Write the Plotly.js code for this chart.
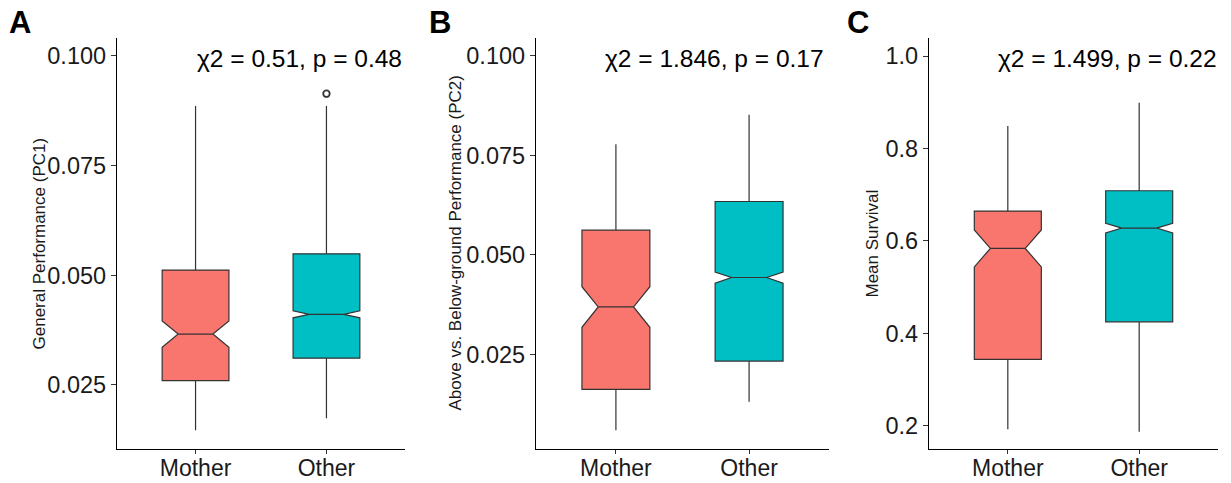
<!DOCTYPE html>
<html>
<head>
<meta charset="utf-8">
<script src="https://cdn.plot.ly/plotly-3.0.1.min.js"></script>
<style>
  html, body { margin: 0; padding: 0; background: #ffffff; }
  #chart { width: 1231px; height: 483px; }
</style>
</head>
<body>
<div id="chart"></div>
<script>
// ---- Data ----
const categories = ['Mother', 'Other'];
const boxColors = ['#F8766D', '#00BFC4'];

// Panel A: General Performance (PC1)
const a_lower  = [0.0147, 0.0174];
const a_q1     = [0.0260, 0.0311];
const a_median = [0.0366, 0.0411];
const a_q3     = [0.0512, 0.0549];
const a_upper  = [0.0886, 0.0886];
const a_notch  = [0.0030, 0.0008];
const a_outlierCat = ['Other'];
const a_outlierVal = [0.0914];

// Panel B: Above vs. Below-ground Performance (PC2)
const b_lower  = [0.0059, 0.0131];
const b_q1     = [0.0162, 0.0233];
const b_median = [0.0369, 0.0443];
const b_q3     = [0.0562, 0.0634];
const b_upper  = [0.0778, 0.0852];
const b_notch  = [0.0051, 0.0014];

// Panel C: Mean Survival
const c_lower  = [0.1926, 0.1868];
const c_q1     = [0.3435, 0.4249];
const c_median = [0.5837, 0.6277];
const c_q3     = [0.6645, 0.7085];
const c_upper  = [0.8485, 0.8990];
const c_notch  = [0.0400, 0.0105];

const panelLetters = ['A', 'B', 'C'];
const yTitles = ['General Performance (PC1)', 'Above vs. Below-ground Performance (PC2)', 'Mean Survival'];
const statTexts = ['χ2 = 0.51, p = 0.48', 'χ2 = 1.846, p = 0.17', 'χ2 = 1.499, p = 0.22'];
const yTickValsAB = [0.025, 0.050, 0.075, 0.100];
const yTickValsC = [0.2, 0.4, 0.6, 0.8, 1.0];

// ---- Build traces ----
const W = 1231, H = 483;
const FONT = 'Liberation Sans, Arial, Helvetica, sans-serif';
const traces = [];

function addBoxes(lower, q1, med, q3, upper, notch, xa, ya) {
  categories.forEach((cat, i) => {
    traces.push({
      type: 'box',
      x: [cat],
      q1: [q1[i]], median: [med[i]], q3: [q3[i]],
      lowerfence: [lower[i]], upperfence: [upper[i]],
      notched: true, notchspan: [notch[i]], notchwidth: 0.24,
      width: 0.51, whiskerwidth: 0,
      fillcolor: boxColors[i],
      line: { color: '#333333', width: 1.2 },
      boxpoints: false,
      showlegend: false, hoverinfo: 'skip',
      xaxis: xa, yaxis: ya
    });
  });
}
addBoxes(a_lower, a_q1, a_median, a_q3, a_upper, a_notch, 'x', 'y');
addBoxes(b_lower, b_q1, b_median, b_q3, b_upper, b_notch, 'x2', 'y2');
addBoxes(c_lower, c_q1, c_median, c_q3, c_upper, c_notch, 'x3', 'y3');

traces.push({
  type: 'scatter', mode: 'markers',
  x: a_outlierCat, y: a_outlierVal,
  marker: { symbol: 'circle-open', size: 6.5, color: '#333333', line: { width: 1.8, color: '#333333' } },
  showlegend: false, hoverinfo: 'skip', xaxis: 'x', yaxis: 'y'
});

// ---- Layout ----
const px = v => v / W;
const py = v => (H - v) / H;
const yDom = [py(449), py(38)];

function xAxis(dom, anchor) {
  return {
    domain: dom, anchor: anchor, type: 'category',
    categoryorder: 'array', categoryarray: categories,
    range: [-0.6, 1.6], fixedrange: true,
    showline: true, linecolor: '#000000', linewidth: 1.2,
    ticks: 'outside', ticklen: 4, tickcolor: '#333333', tickwidth: 1,
    ticklabelstandoff: -6,
    showgrid: false, zeroline: false,
    tickfont: { family: FONT, size: 23, color: '#1a1a1a' }
  };
}
function yAxis(range, tickvals, fmt, anchor) {
  return {
    domain: yDom, anchor: anchor, range: range, fixedrange: true,
    tickmode: 'array', tickvals: tickvals, tickformat: fmt,
    showline: true, linecolor: '#000000', linewidth: 1.2,
    ticks: 'outside', ticklen: 5, tickcolor: '#333333', tickwidth: 1,
    showgrid: false, zeroline: false,
    tickfont: { family: FONT, size: 23.5, color: '#1a1a1a' }
  };
}

const layout = {
  width: W, height: H,
  margin: { l: 0, r: 0, t: 0, b: 0 },
  paper_bgcolor: '#ffffff', plot_bgcolor: '#ffffff',
  showlegend: false, boxmode: 'overlay',
  font: { family: FONT, color: '#000000' },
  xaxis:  xAxis([px(117), px(405)], 'y'),
  xaxis2: xAxis([px(536), px(829)], 'y2'),
  xaxis3: xAxis([px(929), px(1218)], 'y3'),
  yaxis:  yAxis([0.0104, 0.1041], yTickValsAB, '.3f', 'x'),
  yaxis2: yAxis([0.0012, 0.1045], yTickValsAB, '.3f', 'x2'),
  yaxis3: yAxis([0.1496, 1.039], yTickValsC, '.1f', 'x3'),
  annotations: []
};

const letterX = [7, 427, 845];
const yTitleX = [39, 455, 872];
const statX = [195, 603, 996];
for (let i = 0; i < 3; i++) {
  layout.annotations.push({
    xref: 'paper', yref: 'paper', x: px(letterX[i]), y: py(22),
    xanchor: 'left', yanchor: 'middle', showarrow: false,
    text: '<b>' + panelLetters[i] + '</b>',
    font: { family: FONT, size: 31, color: '#000000' }
  });
  layout.annotations.push({
    xref: 'paper', yref: 'paper', x: px(yTitleX[i]), y: py(243.5),
    xanchor: 'center', yanchor: 'middle', showarrow: false, textangle: -90,
    text: yTitles[i],
    font: { family: FONT, size: 17, color: '#1a1a1a' }
  });
  layout.annotations.push({
    xref: 'paper', yref: 'paper', x: px(statX[i]), y: py(59),
    xanchor: 'left', yanchor: 'middle', showarrow: false,
    text: statTexts[i],
    font: { family: FONT, size: 24.5, color: '#000000' }
  });
}

Plotly.newPlot('chart', traces, layout, { displayModeBar: false, staticPlot: true });
</script>
</body>
</html>
